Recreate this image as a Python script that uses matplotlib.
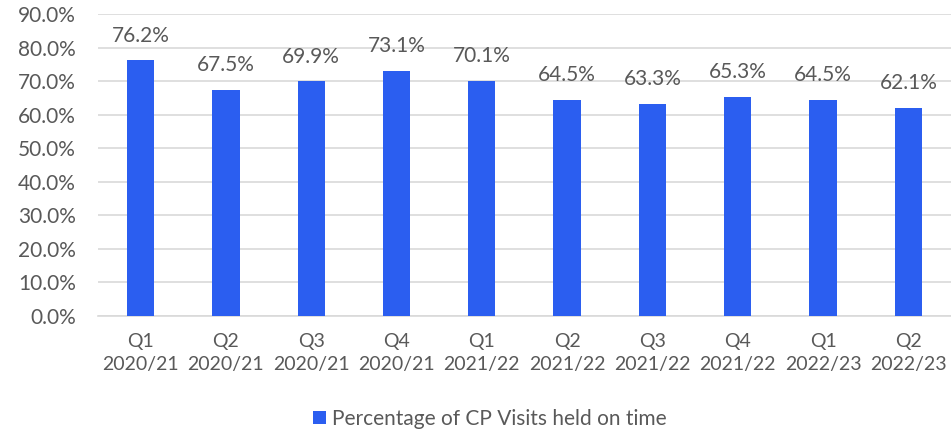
import matplotlib
matplotlib.use("Agg")
import matplotlib.pyplot as plt
from matplotlib.ticker import FuncFormatter
from matplotlib.patches import Patch

quarters = ["Q1", "Q2", "Q3", "Q4", "Q1", "Q2", "Q3", "Q4", "Q1", "Q2"]
years = ["2020/21", "2020/21", "2020/21", "2020/21", "2021/22", "2021/22",
         "2021/22", "2021/22", "2022/23", "2022/23"]
values = [76.2, 67.5, 69.9, 73.1, 70.1, 64.5, 63.3, 65.3, 64.5, 62.1]
series_name = "Percentage of CP Visits held on time"

BAR = "#2B5EF0"
TXT = "#595959"
GRID = "#D9D9D9"
FONT = ["Lato", "DejaVu Sans"]
plt.rcParams["font.family"] = FONT
FS = 15

fig = plt.figure(figsize=(9.51, 4.32), dpi=100)
ax = fig.add_axes([0.103, 0.2685, 0.897, 0.699])

labels = [f"{q}\n{y}" for q, y in zip(quarters, years)]
x = list(range(len(values)))
bars = ax.bar(x, values, width=0.32, color=BAR, zorder=3)
for xi, v in zip(x, values):
    ax.text(xi, v + 4.4, f"{v:.1f}%", ha="center", va="bottom",
            fontsize=FS, color=TXT)

ax.set_ylim(0, 90)
ax.set_xlim(-0.5, len(values) - 0.5)
ax.set_yticks([i * 10 for i in range(10)])
ax.yaxis.set_major_formatter(FuncFormatter(lambda v, p: f"{v:.1f}%"))
ax.set_xticks(x)
ax.set_xticklabels(labels, fontsize=14, color=TXT, linespacing=1.45)
ax.tick_params(axis="y", labelsize=FS, labelcolor=TXT, length=0, pad=16)
ax.tick_params(axis="x", length=0, pad=12)
ax.grid(axis="y", color=GRID, linewidth=1.2, zorder=0)
for s in ["top", "right", "left"]:
    ax.spines[s].set_visible(False)
ax.spines["bottom"].set_color(GRID)
ax.spines["bottom"].set_linewidth(1.2)

handle = Patch(facecolor=BAR, edgecolor="none")
fig.legend([handle], [series_name], loc="center", bbox_to_anchor=(0.515, 0.03),
           frameon=False, fontsize=FS, labelcolor=TXT, handlelength=0.6,
           handleheight=0.6, handletextpad=0.3)

fig.savefig("out.png", dpi=100)
